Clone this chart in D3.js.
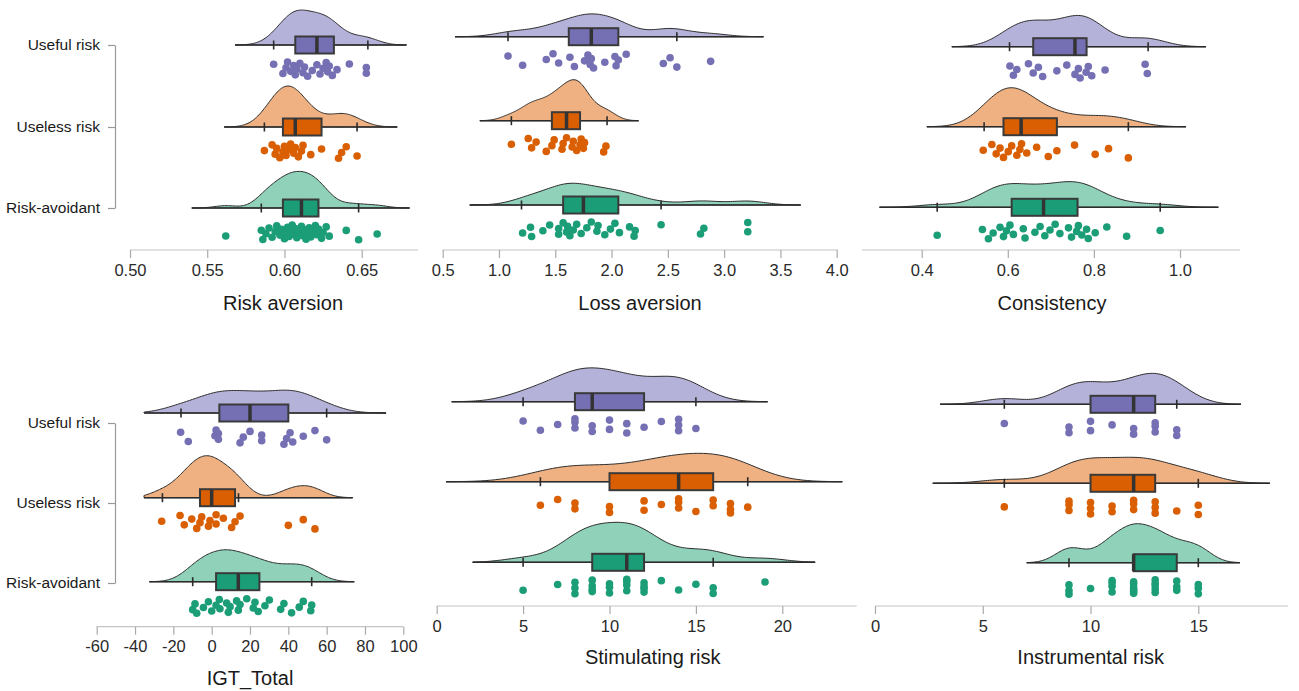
<!DOCTYPE html>
<meta charset="utf-8">
<script src="https://d3js.org/d3.v7.min.js"></script>
<style>
  body { margin: 0; background: #fff; }
  text { font-family: "Liberation Sans", Arial, sans-serif; }
</style>
<div id="my_dataviz"></div>
<script>
  // groups and colours
  var groupNames = ["Useful risk", "Useless risk", "Risk-avoidant"];
  var cloudFill = ["#b5b2d9", "#efb181", "#8fd1b9"];
  var boxFill = ["#7570b3", "#d95f02", "#1b9e77"];

  // ---- Risk aversion
  var riskAversionUseful = [0.593, 0.599, 0.601, 0.602, 0.604, 0.606, 0.607, 0.608, 0.610, 0.612, 0.613, 0.615, 0.618, 0.621, 0.623, 0.625, 0.627, 0.628, 0.629, 0.631, 0.634, 0.642, 0.653, 0.653];
  var riskAversionUseless = [0.587, 0.592, 0.594, 0.595, 0.597, 0.599, 0.600, 0.601, 0.603, 0.604, 0.606, 0.607, 0.609, 0.611, 0.612, 0.617, 0.624, 0.635, 0.637, 0.640, 0.647];
  var riskAversionAvoidant = [0.562, 0.585, 0.586, 0.588, 0.590, 0.592, 0.594, 0.595, 0.597, 0.598, 0.600, 0.601, 0.602, 0.603, 0.604, 0.605, 0.606, 0.607, 0.608, 0.610, 0.611, 0.612, 0.613, 0.614, 0.615, 0.616, 0.617, 0.618, 0.620, 0.621, 0.622, 0.624, 0.625, 0.627, 0.629, 0.640, 0.648, 0.660];
  var riskAversionBox = [[0.593, 0.607, 0.621, 0.632, 0.654], [0.587, 0.599, 0.607, 0.624, 0.647], [0.585, 0.599, 0.611, 0.622, 0.648]];
  var riskAversionCloud = [[0.568, 0.679, 0.0085], [0.561, 0.673, 0.0087], [0.540, 0.681, 0.0072]];
  var riskAversionTicks = [0.50, 0.55, 0.60, 0.65];

  // ---- Loss aversion
  var lossAversionUseful = [1.08, 1.21, 1.42, 1.48, 1.53, 1.63, 1.67, 1.76, 1.79, 1.81, 1.82, 1.84, 1.94, 2.03, 2.04, 2.06, 2.13, 2.46, 2.52, 2.58, 2.88];
  var lossAversionUseless = [1.11, 1.26, 1.29, 1.33, 1.42, 1.47, 1.49, 1.56, 1.57, 1.60, 1.65, 1.66, 1.69, 1.72, 1.73, 1.75, 1.76, 1.93, 1.95];
  var lossAversionAvoidant = [1.21, 1.28, 1.29, 1.39, 1.45, 1.53, 1.53, 1.57, 1.60, 1.61, 1.63, 1.66, 1.69, 1.73, 1.78, 1.82, 1.87, 1.88, 1.94, 1.99, 2.03, 2.07, 2.16, 2.20, 2.21, 2.44, 2.79, 2.82, 3.21, 3.21];
  var lossAversionBox = [[1.08, 1.62, 1.82, 2.06, 2.58], [1.11, 1.47, 1.60, 1.72, 1.96], [1.20, 1.57, 1.75, 2.06, 2.44]];
  var lossAversionCloud = [[0.61, 3.35, 0.157], [0.83, 2.24, 0.095], [0.74, 3.68, 0.157]];
  var lossAversionTicks = [0.5, 1.0, 1.5, 2.0, 2.5, 3.0, 3.5, 4.0];

  // ---- Consistency
  var consistencyUseful = [0.605, 0.613, 0.621, 0.648, 0.659, 0.671, 0.681, 0.714, 0.737, 0.756, 0.764, 0.768, 0.782, 0.787, 0.795, 0.826, 0.919, 0.924];
  var consistencyUseless = [0.543, 0.563, 0.573, 0.582, 0.590, 0.601, 0.609, 0.621, 0.628, 0.632, 0.644, 0.667, 0.694, 0.714, 0.755, 0.803, 0.834, 0.880];
  var consistencyAvoidant = [0.436, 0.541, 0.555, 0.566, 0.582, 0.590, 0.597, 0.605, 0.613, 0.636, 0.640, 0.663, 0.675, 0.686, 0.698, 0.710, 0.721, 0.741, 0.748, 0.760, 0.764, 0.772, 0.783, 0.787, 0.803, 0.830, 0.876, 0.954];
  var consistencyBox = [[0.604, 0.659, 0.756, 0.783, 0.926], [0.545, 0.590, 0.631, 0.714, 0.880], [0.436, 0.609, 0.683, 0.762, 0.954]];
  var consistencyCloud = [[0.470, 1.060, 0.045], [0.412, 1.014, 0.044], [0.302, 1.089, 0.045]];
  var consistencyTicks = [0.4, 0.6, 0.8, 1.0];

  // ---- IGT_Total
  var igtUseful = [-16.2, -12.2, 1.7, 2.3, 3.5, 3.5, 14.8, 16.5, 20, 26.1, 26.1, 37.7, 39.1, 40.9, 42.3, 47.8, 53.9, 60];
  var igtUseless = [-26.1, -16.5, -14.3, -10.4, -7.8, -6.1, -5.2, -1.7, -0.9, 2.3, 2.3, 6.1, 10.4, 12.2, 14.8, 40, 47.8, 53.9];
  var igtAvoidant = [-9.9, -8.7, -7.8, -4.3, -1.7, 0, 2.3, 4, 4.3, 7.8, 8.7, 9.6, 13, 13.9, 14.8, 18.3, 21.7, 22.6, 24.3, 27.8, 30.1, 36, 37.7, 41.7, 45.7, 47.8, 51.7, 52.2];
  var igtBox = [[-16, 4, 20, 40, 60], [-25.7, -6.1, 0, 12.2, 14], [-9.9, 2.3, 13.9, 24.9, 52.2]];
  var igtCloud = [[-35.3, 91, 10.3], [-35.3, 73.6, 6.6], [-32.5, 74.4, 7.4]];
  var igtTicks = [-60, -40, -20, 0, 20, 40, 60, 80, 100];

  // ---- Stimulating risk
  var stimUseful = [5, 6, 7, 8, 8, 8, 9, 9, 10, 10, 11, 11, 12, 13, 14, 14, 14, 15];
  var stimUseless = [6, 7, 8, 8, 10, 10, 12, 12, 13, 14, 14, 14, 15, 16, 16, 17, 17, 17, 18];
  var stimAvoidant = [5, 7, 8, 8, 8, 9, 9, 9, 9, 10, 10, 10, 11, 11, 11, 11, 12, 12, 12, 12, 13, 14, 15, 16, 16, 19];
  var stimBox = [[5, 8, 9, 12, 15], [6, 10, 14, 16, 18], [5, 9, 11, 12, 16]];
  var stimCloud = [[0.87, 19.15, 1.38], [0.54, 23.47, 1.82], [2.08, 21.9, 1.2]];
  var stimTicks = [0, 5, 10, 15, 20];

  // ---- Instrumental risk
  var instrUseful = [6, 9, 9, 10, 10, 11, 12, 12, 13, 13, 13, 14, 14];
  var instrUseless = [6, 9, 9, 9, 10, 10, 10, 11, 11, 12, 12, 12, 13, 13, 13, 14, 15, 15];
  var instrAvoidant = [9, 9, 9, 10, 11, 11, 11, 11, 12, 12, 12, 12, 12, 12, 13, 13, 13, 13, 13, 14, 14, 14, 15, 15, 15];
  var instrBox = [[6, 10, 12, 13, 14], [6, 10, 12, 13, 15], [9, 12, 12, 14, 15]];
  var instrCloud = [[3.02, 16.98, 0.99], [2.68, 18.32, 1.1], [7.04, 16.93, 0.65]];
  var instrTicks = [0, 5, 10, 15];

  // panel layout (pixels)
  var panels = [
    { title: "Risk aversion", pts: [riskAversionUseful, riskAversionUseless, riskAversionAvoidant], box: riskAversionBox, cloud: riskAversionCloud, ticks: riskAversionTicks, fmt: d3.format(".2f"),
      range: [130, 361.7], line: [130, 418], axisY: 250, rows: [45, 127, 208], titleX: 283, titleY: 310, maxH: 41, labels: [45, 127, 208] },
    { title: "Loss aversion", pts: [lossAversionUseful, lossAversionUseless, lossAversionAvoidant], box: lossAversionBox, cloud: lossAversionCloud, ticks: lossAversionTicks, fmt: d3.format(".1f"),
      range: [442.7, 836.7], line: [442.7, 838], axisY: 250, rows: [36.7, 120.7, 205], titleX: 640, titleY: 310, maxH: 41 },
    { title: "Consistency", pts: [consistencyUseful, consistencyUseless, consistencyAvoidant], box: consistencyBox, cloud: consistencyCloud, ticks: consistencyTicks, fmt: d3.format(".1f"),
      range: [921.7, 1180], line: [862, 1240], axisY: 250, rows: [46.7, 126.7, 207.3], titleX: 1052, titleY: 310, maxH: 39 },
    { title: "IGT_Total", pts: [igtUseful, igtUseless, igtAvoidant], box: igtBox, cloud: igtCloud, ticks: igtTicks, fmt: function (d) { return String(d); },
      range: [96.7, 403.3], line: [96.7, 403.3], axisY: 626.7, rows: [413, 497.7, 581.7], titleX: 250, titleY: 685, maxH: 42, labels: [423, 503, 583] },
    { title: "Stimulating risk", pts: [stimUseful, stimUseless, stimAvoidant], box: stimBox, cloud: stimCloud, ticks: stimTicks, fmt: function (d) { return String(d); },
      range: [436.7, 782.3], line: [436.7, 856.7], axisY: 606, rows: [401.7, 481.7, 562.3], titleX: 652.7, titleY: 664, maxH: 40 },
    { title: "Instrumental risk", pts: [instrUseful, instrUseless, instrAvoidant], box: instrBox, cloud: instrCloud, ticks: instrTicks, fmt: function (d) { return String(d); },
      range: [875, 1198.3], line: [875, 1288], axisY: 606, rows: [404.3, 483.3, 562.7], titleX: 1090.7, titleY: 664, maxH: 39 }
  ];

  var svg = d3.select("#my_dataviz")
    .append("svg")
    .attr("width", 1299)
    .attr("height", 691);

  // gaussian kernel density over [lo, hi]
  function kde(values, lo, hi, bw) {
    var steps = 160, out = [];
    for (var k = 0; k <= steps; k++) {
      var x = lo + (hi - lo) * k / steps;
      var s = d3.sum(values, function (v) {
        var u = (x - v) / bw;
        return Math.exp(-0.5 * u * u);
      });
      out.push([x, s / (values.length * bw * Math.sqrt(2 * Math.PI))]);
    }
    return out;
  }

  panels.forEach(function (p) {
    var x = d3.scaleLinear()
      .domain([p.ticks[0], p.ticks[p.ticks.length - 1]])
      .range(p.range);

    var dens = p.cloud.map(function (c, i) { return kde(p.pts[i], c[0], c[1], c[2]); });
    var dMax = d3.max(dens, function (d) { return d3.max(d, function (e) { return e[1]; }); });
    var h = d3.scaleLinear().domain([0, dMax]).range([0, p.maxH]);

    var g = svg.append("g");

    // x axis
    g.append("line")
      .attr("x1", p.line[0]).attr("x2", p.line[1])
      .attr("y1", p.axisY).attr("y2", p.axisY)
      .attr("stroke", "#c4c4c4").attr("stroke-width", 1.2);
    var ax = g.append("g")
      .attr("transform", "translate(0," + p.axisY + ")")
      .call(d3.axisBottom(x).tickValues(p.ticks).tickFormat(p.fmt).tickSize(8).tickSizeOuter(0).tickPadding(6));
    ax.select(".domain").remove();
    ax.selectAll(".tick line").attr("stroke", "#aaa").attr("stroke-width", 1.2);
    ax.selectAll(".tick text")
      .attr("fill", "#2a2a2a")
      .style("font-size", "16.5px")
      .style("font-family", "'Liberation Sans', Arial, sans-serif");

    g.append("text")
      .attr("x", p.titleX).attr("y", p.titleY)
      .attr("text-anchor", "middle")
      .attr("fill", "#1a1a1a")
      .style("font-size", "20px")
      .text(p.title);

    // group axis on the left panels
    if (p.labels) {
      var yl = d3.scaleOrdinal().domain(groupNames).range(p.labels);
      var ay = g.append("g")
        .attr("transform", "translate(115,0)")
        .call(d3.axisLeft(yl).tickSize(7).tickSizeOuter(0).tickPadding(8));
      ay.select(".domain").attr("stroke", "#999").attr("stroke-width", 1.2);
      ay.selectAll(".tick line").attr("stroke", "#999").attr("stroke-width", 1.2);
      ay.selectAll(".tick text")
        .attr("fill", "#1a1a1a")
        .style("font-size", "15.5px")
        .style("font-family", "'Liberation Sans', Arial, sans-serif");
    }

    p.pts.forEach(function (vals, i) {
      var y0 = p.rows[i];
      var b = p.box[i];

      // cloud
      var area = d3.area()
        .x(function (d) { return x(d[0]); })
        .y0(y0)
        .y1(function (d) { return y0 - h(d[1]); })
        .curve(d3.curveBasis);
      g.append("path")
        .datum(dens[i])
        .attr("d", area)
        .attr("fill", cloudFill[i])
        .attr("stroke", "#2b2b2b")
        .attr("stroke-width", 1);

      // baseline and whiskers
      g.append("line")
        .attr("x1", x(p.cloud[i][0])).attr("x2", x(p.cloud[i][1]))
        .attr("y1", y0).attr("y2", y0)
        .attr("stroke", "#2b2b2b").attr("stroke-width", 1.5);
      [b[0], b[4]].forEach(function (w) {
        g.append("line")
          .attr("x1", x(w)).attr("x2", x(w))
          .attr("y1", y0 - 4.5).attr("y2", y0 + 4.5)
          .attr("stroke", "#2b2b2b").attr("stroke-width", 1.6);
      });

      // box
      g.append("rect")
        .attr("x", x(b[1]))
        .attr("y", y0 - 8.5)
        .attr("width", x(b[3]) - x(b[1]))
        .attr("height", 17)
        .attr("fill", boxFill[i])
        .attr("stroke", "#3a3a3a")
        .attr("stroke-width", 2);
      g.append("line")
        .attr("x1", x(b[2])).attr("x2", x(b[2]))
        .attr("y1", y0 - 8.5).attr("y2", y0 + 8.5)
        .attr("stroke", "#333").attr("stroke-width", 3.5);

      // rain
      g.selectAll(null)
        .data(vals)
        .enter()
        .append("circle")
        .attr("cx", function (d) { return x(d); })
        .attr("cy", function (d, j) {
          var f = (j * 0.618034 + i * 0.29 + 0.15) % 1;
          return y0 + 17 + 15 * f;
        })
        .attr("r", 3.8)
        .attr("fill", boxFill[i]);
    });
  });
</script>
